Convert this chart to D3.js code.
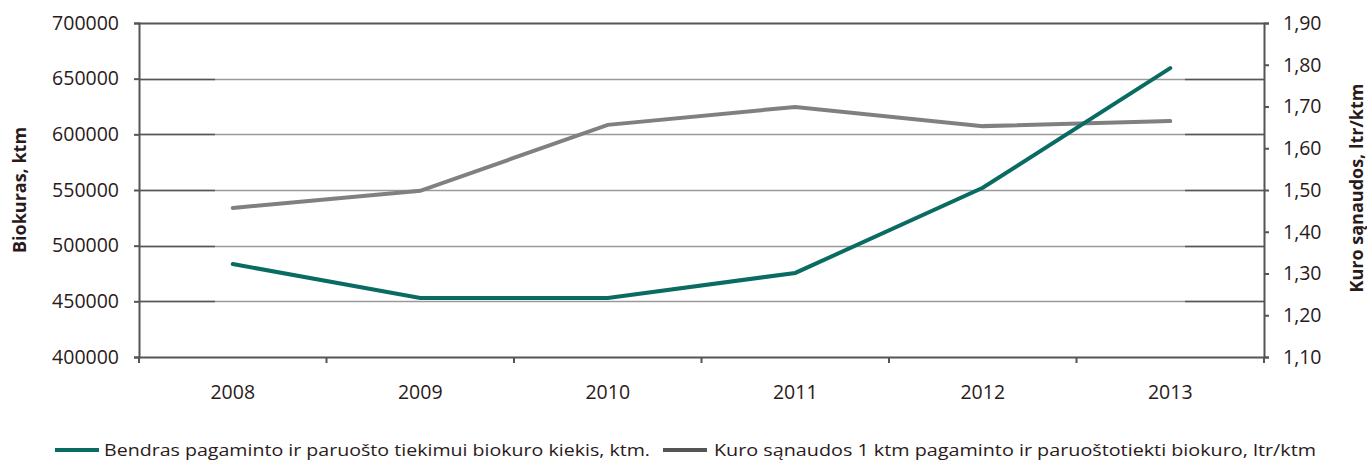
<!DOCTYPE html>
<html>
<head>
<meta charset="utf-8">
<script src="https://cdn.jsdelivr.net/npm/d3@7"></script>
<style>
  body { margin: 0; background: #fff; }
  text { font-family: "Open Sans", "Liberation Sans", sans-serif; fill: #2a1a1a; }
</style>
</head>
<body>
<script>
var width = 1367;
var height = 462;

// data
var years = ['2008', '2009', '2010', '2011', '2012', '2013'];
var biokuras = [483500, 453000, 453000, 475500, 552000, 659500];
var sanaudos = [1.457, 1.498, 1.656, 1.699, 1.653, 1.665];
var leftTicks = [400000, 450000, 500000, 550000, 600000, 650000, 700000];
var rightTicks = [1.1, 1.2, 1.3, 1.4, 1.5, 1.6, 1.7, 1.8, 1.9];
var legendNames = ['Bendras pagaminto  ir paruošto tiekimui biokuro kiekis, ktm.',
                   'Kuro sąnaudos 1 ktm pagaminto  ir paruoštotiekti biokuro, ltr/ktm'];

var plotLeft = 139, plotRight = 1264, plotTop = 23, plotBottom = 357;

var svg = d3.select('body').append('svg')
  .attr('width', width)
  .attr('height', height);

var x = d3.scaleBand().domain(years).range([plotLeft, plotRight]);
var yL = d3.scaleLinear().domain([400000, 700000]).range([plotBottom, plotTop]);
var yR = d3.scaleLinear().domain([1.1, 1.9]).range([plotBottom, plotTop]);

//gridlines - light in the middle, darker near both ends
var grid = svg.append('g');
leftTicks.forEach(function(t) {
  if (t === 400000) return;
  var yy = Math.round(yL(t)) + 0.5;
  var dark = t === 700000;
  grid.append('line').attr('x1', plotLeft).attr('x2', plotRight).attr('y1', yy).attr('y2', yy)
    .attr('stroke', dark ? '#555' : '#9a9a9a').attr('stroke-width', dark ? 2 : 1.5);
  if (!dark) {
    grid.append('line').attr('x1', plotLeft).attr('x2', 215).attr('y1', yy).attr('y2', yy)
      .attr('stroke', '#555').attr('stroke-width', 1.5);
    grid.append('line').attr('x1', 1185).attr('x2', plotRight).attr('y1', yy).attr('y2', yy)
      .attr('stroke', '#555').attr('stroke-width', 1.5);
  }
});

//axes
var axL = svg.append('g').attr('transform', 'translate(' + plotLeft + ',0)')
  .call(d3.axisLeft(yL).tickValues(leftTicks).tickSize(5).tickPadding(15).tickFormat(d3.format('d')));
var axR = svg.append('g').attr('transform', 'translate(' + plotRight + ',0)')
  .call(d3.axisRight(yR).tickValues(rightTicks).tickSize(5).tickPadding(14)
    .tickFormat(function(d){ return d.toFixed(2).replace('.', ','); }));
var axB = svg.append('g').attr('transform', 'translate(0,' + plotBottom + ')')
  .call(d3.axisBottom(x).tickSize(0).tickPadding(28));

[axL, axR, axB].forEach(function(a) {
  a.select('.domain').attr('stroke', '#555').attr('stroke-width', 2);
  a.selectAll('line').attr('stroke', '#555').attr('stroke-width', 2);
  a.selectAll('text').attr('fill', '#2a1a1a').style('font-size', '19.5px');
});

//category tick marks between bands
var sep = years.map(function(d){ return x(d); }).concat([plotRight]);
svg.append('g').selectAll('line').data(sep).enter().append('line')
  .attr('x1', function(d){ return d; }).attr('x2', function(d){ return d; })
  .attr('y1', plotBottom).attr('y2', plotBottom + 6)
  .attr('stroke', '#555').attr('stroke-width', 2);

//axis titles
svg.append('text')
  .attr('transform', 'translate(26,190) rotate(-90)')
  .attr('text-anchor', 'middle')
  .style('font-size', '18px').style('font-weight', 'bold')
  .text('Biokuras, ktm');
svg.append('text')
  .attr('transform', 'translate(1363,188) rotate(-90)')
  .attr('text-anchor', 'middle')
  .style('font-size', '18px').style('font-weight', 'bold')
  .text('Kuro sąnaudos,  ltr/ktm');

//lines
var lineL = d3.line()
  .x(function(d, i){ return x(years[i]) + x.bandwidth() / 2; })
  .y(function(d){ return yL(d); });
var lineR = d3.line()
  .x(function(d, i){ return x(years[i]) + x.bandwidth() / 2; })
  .y(function(d){ return yR(d); });

svg.append('path').datum(sanaudos)
  .attr('d', lineR).attr('fill', 'none')
  .attr('stroke', '#808080').attr('stroke-width', 4).attr('stroke-linecap', 'round');
svg.append('path').datum(biokuras)
  .attr('d', lineL).attr('fill', 'none')
  .attr('stroke', '#0a6b63').attr('stroke-width', 4).attr('stroke-linecap', 'round');

//legend
var legend = [
  { name: legendNames[0], color: '#0a6b63', x: 55, tx: 104, len: 546 },
  { name: legendNames[1], color: '#555', x: 663, tx: 714, len: 602 }
];
var lg = svg.append('g').selectAll('g').data(legend).enter().append('g');
lg.append('line')
  .attr('x1', function(d){ return d.x; }).attr('x2', function(d){ return d.x + 44; })
  .attr('y1', 450).attr('y2', 450)
  .attr('stroke', function(d){ return d.color; }).attr('stroke-width', 4);
lg.append('text')
  .attr('x', function(d){ return d.tx; }).attr('y', 456)
  .attr('textLength', function(d){ return d.len; })
  .attr('lengthAdjust', 'spacingAndGlyphs')
  .style('font-size', '17px')
  .text(function(d){ return d.name; });
</script>
</body>
</html>
